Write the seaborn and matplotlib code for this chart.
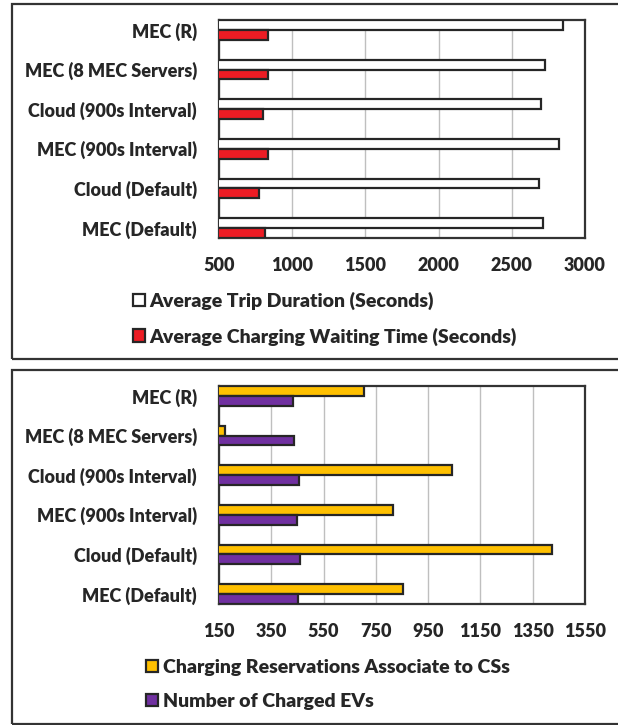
import matplotlib
matplotlib.use("Agg")
import matplotlib.pyplot as plt
import seaborn as sns
import pandas as pd
from matplotlib.patches import Rectangle, Patch

sns.set_style("white")
plt.rcParams['font.family'] = ['Lato', 'DejaVu Sans']
plt.rcParams['font.weight'] = 'bold'

categories = ["MEC (R)", "MEC (8 MEC Servers)", "Cloud (900s Interval)",
              "MEC (900s Interval)", "Cloud (Default)", "MEC (Default)"]

trip_duration = [2852, 2729, 2700, 2820, 2688, 2715]
waiting_time = [832, 838, 802, 832, 770, 811]

reservations = [703, 173, 1040, 817, 1423, 855]
charged_evs = [434, 438, 456, 447, 460, 451]

top_series = ["Average Trip Duration (Seconds)", "Average Charging Waiting Time (Seconds)"]
bot_series = ["Charging Reservations Associate to CSs", "Number of Charged EVs"]
top_colors = ["#FFFFFF", "#ED1C24"]
bot_colors = ["#FFC000", "#7030A0"]

top_ticks = [500, 1000, 1500, 2000, 2500, 3000]
bot_ticks = [150, 350, 550, 750, 950, 1150, 1350, 1550]

W, H = 618, 725
fig = plt.figure(figsize=(W / 100, H / 100), dpi=100)


def ax_rect(left, top, right, bottom):
    return [left / W, 1 - bottom / H, (right - left) / W, (bottom - top) / H]


def draw(ax, s1, s2, names, colors, ticks):
    df = pd.DataFrame({
        "cat": categories * 2,
        "val": list(s1) + list(s2),
        "series": [names[0]] * len(categories) + [names[1]] * len(categories),
    })
    sns.barplot(data=df, y="cat", x="val", hue="series", order=categories,
                hue_order=names, palette=colors, orient="h", width=0.5, gap=0,
                edgecolor="#262626", linewidth=1.6, saturation=1, ax=ax,
                legend=False, errorbar=None, zorder=3)
    ax.set_xlim(ticks[0], ticks[-1])
    ax.set_ylim(len(categories) - 0.75, -0.25)
    ax.set_xticks(ticks)
    ax.set_xlabel("")
    ax.set_ylabel("")
    ax.grid(axis="x", color="#BFBFBF", linewidth=1.0, zorder=0)
    ax.grid(axis="y", visible=False)
    ax.set_axisbelow(True)
    for sp in ax.spines.values():
        sp.set_visible(True)
        sp.set_color("#333333")
        sp.set_linewidth(1.6)
    ax.tick_params(axis="both", length=0, labelsize=13, colors="#262626")
    ax.tick_params(axis="x", pad=14)
    ax.tick_params(axis="y", pad=16)
    for lab in ax.get_xticklabels() + ax.get_yticklabels():
        lab.set_fontweight("heavy")


ax1 = fig.add_axes(ax_rect(219, 20, 585, 238))
draw(ax1, trip_duration, waiting_time, top_series, top_colors, top_ticks)
ax2 = fig.add_axes(ax_rect(219, 386, 585, 604))
draw(ax2, reservations, charged_evs, bot_series, bot_colors, bot_ticks)

# outer frames
for (t, b) in [(4, 359), (370, 724)]:
    fig.patches.append(Rectangle((12 / W, 1 - b / H), (W + 20 - 12) / W, (b - t) / H,
                                 transform=fig.transFigure, fill=False,
                                 edgecolor="#333333", linewidth=1.6, zorder=0))


def legend(names, colors, x, y):
    handles = [Patch(facecolor=c, edgecolor="#262626", linewidth=1.6) for c in colors]
    fig.legend(handles, names, loc="upper left", bbox_to_anchor=(x / W, 1 - y / H),
               frameon=False, handlelength=0.6, handleheight=0.6,
               handletextpad=0.25, labelspacing=0.88, borderaxespad=0,
               borderpad=0, prop={"size": 14, "weight": "heavy"},
               labelcolor="#262626")


legend(top_series, top_colors, 133, 292)
legend(bot_series, bot_colors, 146, 659)

fig.savefig("out.png", dpi=100)
